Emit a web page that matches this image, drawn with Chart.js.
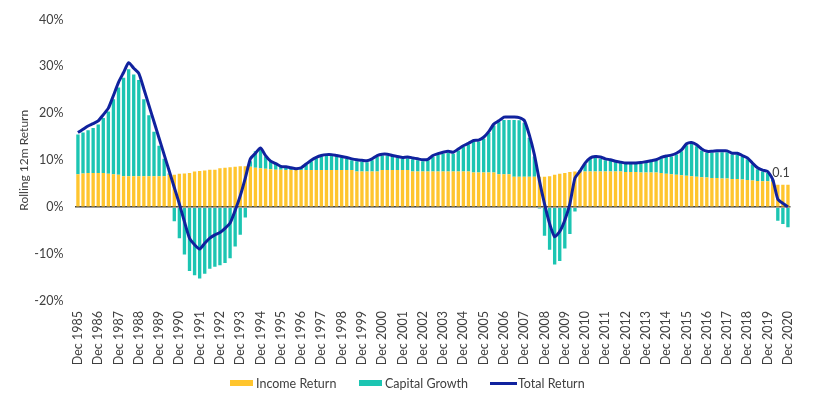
<!DOCTYPE html>
<html><head><meta charset="utf-8">
<script src="https://cdn.jsdelivr.net/npm/chart.js@4.4.0/dist/chart.umd.min.js"></script>
<style>
html,body{margin:0;padding:0;background:#fff;}
#wrap{position:relative;width:813px;height:404px;}
canvas{display:block}
.leg{position:absolute;top:376px;height:14px;display:flex;align-items:center;font-family:Lato,sans-serif;font-size:12.5px;color:#404040;white-space:nowrap}
.sw{display:inline-block;width:23px;height:6px;margin-right:3px}
.ln{display:inline-block;width:27px;height:3px;background:#10229E;margin-right:1px}
</style></head><body>
<div id="wrap"><canvas id="c" width="813" height="404"></canvas>
<div class="leg" style="left:230px"><span class="sw" style="background:#FFC52E"></span>Income Return</div>
<div class="leg" style="left:359px"><span class="sw" style="background:#1CC5B2"></span>Capital Growth</div>
<div class="leg" style="left:490px"><span class="ln"></span>Total Return</div>
</div>
<script>
const decLabels = ['Dec 1985','Dec 1986','Dec 1987','Dec 1988','Dec 1989','Dec 1990','Dec 1991','Dec 1992','Dec 1993','Dec 1994','Dec 1995','Dec 1996','Dec 1997','Dec 1998','Dec 1999','Dec 2000','Dec 2001','Dec 2002','Dec 2003','Dec 2004','Dec 2005','Dec 2006','Dec 2007','Dec 2008','Dec 2009','Dec 2010','Dec 2011','Dec 2012','Dec 2013','Dec 2014','Dec 2015','Dec 2016','Dec 2017','Dec 2018','Dec 2019','Dec 2020'];
const otherQuarters = ['Mar','Jun','Sep'];

const incomeReturn = [
 7.0,7.2,7.3,7.3,7.3,7.3,7.1,7.0,6.9,6.6,
 6.6,6.6,6.6,6.6,6.6,6.6,6.6,6.6,6.9,6.9,
 7.1,7.2,7.3,7.6,7.7,7.8,8.0,8.0,8.3,8.4,
 8.5,8.6,8.7,8.7,8.6,8.4,8.3,8.2,8.1,8.0,
 8.0,7.9,7.9,7.9,7.9,7.9,7.9,7.9,7.9,7.9,
 7.9,7.9,7.9,7.9,7.9,7.6,7.6,7.6,7.6,7.6,
 7.9,7.9,7.9,7.9,7.9,7.9,7.6,7.6,7.6,7.6,
 7.6,7.6,7.6,7.6,7.6,7.6,7.6,7.6,7.4,7.4,
 7.4,7.4,7.4,7.0,7.0,7.0,6.5,6.5,6.5,6.5,
 6.5,6.5,6.5,6.6,6.9,7.1,7.3,7.5,7.6,7.6,
 7.6,7.6,7.6,7.6,7.6,7.6,7.6,7.6,7.5,7.5,
 7.5,7.4,7.4,7.4,7.4,7.3,7.1,7.0,6.9,6.8,
 6.7,6.6,6.5,6.4,6.3,6.2,6.2,6.1,6.1,6.0,
 6.0,5.9,5.8,5.7,5.6,5.5,5.5,5.4,4.8,4.8,4.8];

const capitalGrowth = [
 8.5,8.7,9.1,9.6,10.3,11.7,13.3,16.0,18.6,21.0,
 22.8,21.7,20.5,16.4,13.0,9.5,6.5,3.7,0.3,-3.0,
 -6.6,-10.1,-13.6,-14.5,-15.2,-14.2,-13.1,-12.7,-12.4,-11.9,
 -10.9,-8.4,-5.9,-2.2,1.2,3.5,3.9,2.6,1.7,1.3,
 0.7,0.7,0.4,0.2,0.5,1.2,1.9,2.5,2.9,3.0,
 3.0,2.9,2.7,2.4,2.1,2.2,2.1,2.0,2.4,3.1,
 3.1,3.1,2.8,2.6,2.4,2.5,2.6,2.4,2.2,2.4,
 3.1,3.5,3.8,4.0,3.8,4.5,5.2,5.7,6.5,6.6,
 7.2,8.4,10.0,11.1,11.6,11.6,12.1,12.0,11.5,8.3,
 4.3,-0.3,-6.1,-9.1,-12.2,-11.5,-8.8,-5.7,-0.9,0.3,
 1.6,2.7,2.9,2.7,2.4,2.3,2.0,1.8,1.8,1.8,
 1.8,1.9,2.1,2.3,2.5,3.1,3.6,3.8,4.3,5.1,
 6.5,6.9,6.5,5.7,5.3,5.4,5.5,5.6,5.6,5.2,
 5.2,4.8,4.4,3.4,2.5,2.1,1.8,0.4,-2.9,-3.6,-4.3];

const totalReturn = [
 15.9,16.6,17.3,17.8,18.4,19.7,21.1,23.8,26.6,28.7,
 30.8,29.6,28.5,25.2,21.7,18.2,14.7,11.2,7.7,4.2,
 0.7,-3.1,-6.6,-8.0,-8.9,-7.7,-6.6,-5.9,-5.4,-4.5,
 -3.4,-0.7,2.4,6.2,10.3,11.5,12.6,11.0,9.8,9.3,
 8.7,8.6,8.4,8.2,8.4,9.2,10.0,10.6,11.0,11.2,
 11.2,11.0,10.8,10.6,10.3,10.1,10.0,9.9,10.3,11.0,
 11.3,11.3,11.0,10.8,10.6,10.7,10.5,10.3,10.1,10.2,
 11.0,11.4,11.7,11.9,11.7,12.4,13.1,13.6,14.2,14.3,
 14.9,16.1,17.7,18.4,19.2,19.2,19.2,19.1,18.5,15.4,
 11.2,5.6,0.7,-3.5,-6.3,-5.2,-2.8,0.7,6.2,7.7,
 9.4,10.5,10.8,10.7,10.3,10.1,9.8,9.6,9.4,9.4,
 9.4,9.5,9.7,9.9,10.1,10.6,10.9,11.1,11.5,12.2,
 13.5,13.8,13.3,12.4,11.9,11.9,12.0,12.0,12.0,11.5,
 11.5,11.0,10.5,9.4,8.4,7.9,7.6,5.9,1.7,0.8,0.1];

const categories = [];
decLabels.forEach((d, k) => {
  categories.push(d);
  if (k < decLabels.length - 1) {
    const nextYear = parseInt(d.slice(4), 10) + 1;
    otherQuarters.forEach(q => categories.push(q + ' ' + nextYear));
  }
});

const FONT = 'Lato';
const TXT = '#404040';

const endLabel = {
  id: 'endLabel',
  afterDatasetsDraw(chart) {
    const meta = chart.getDatasetMeta(2);
    const pt = meta.data[meta.data.length - 1];
    const ctx = chart.ctx;
    ctx.save();
    ctx.font = '12.5px ' + FONT;
    ctx.fillStyle = TXT;
    ctx.textAlign = 'center';
    ctx.textBaseline = 'middle';
    ctx.fillText(totalReturn[totalReturn.length - 1].toFixed(1), pt.x - 7, pt.y - 34);
    ctx.restore();
  }
};

new Chart(document.getElementById('c'), {
  data: {
    labels: categories,
    datasets: [
      { type: 'bar', label: 'Income Return', data: incomeReturn, backgroundColor: '#FFC52E', stack: 'a', order: 1, barPercentage: 0.66, categoryPercentage: 1 },
      { type: 'bar', label: 'Capital Growth', data: capitalGrowth, backgroundColor: '#1CC5B2', stack: 'a', order: 1, barPercentage: 0.66, categoryPercentage: 1 },
      { type: 'line', label: 'Total Return', data: totalReturn, borderColor: '#10229E', backgroundColor: '#10229E', borderWidth: 3, pointRadius: 0, tension: 0.2, fill: false, stack: 'line', order: 0 }
    ]
  },
  options: {
    responsive: false,
    animation: false,
    layout: { padding: { left: 0, right: 13, top: 15, bottom: 31 } },
    plugins: { legend: { display: false }, tooltip: { enabled: false } },
    scales: {
      x: {
        stacked: true,
        grid: { display: false, drawTicks: false },
        border: { display: false },
        ticks: {
          autoSkip: false, maxRotation: 90, minRotation: 90, padding: 10,
          color: TXT, font: { family: FONT, size: 12.5 },
          callback: function (v) { const l = this.getLabelForValue(v); return l.startsWith('Dec') ? l : null; }
        },
        afterFit(s) { s.height = 72; }
      },
      y: {
        stacked: true, min: -20, max: 40,
        border: { display: false },
        grid: { drawTicks: false, lineWidth: 1.5, color: ctx => (ctx.tick && ctx.tick.value === 0) ? '#404040' : 'rgba(0,0,0,0)' },
        ticks: { stepSize: 10, padding: 12, color: TXT, font: { family: FONT, size: 12.5 }, callback: v => v + '%' },
        title: { display: true, text: 'Rolling 12m Return', color: TXT, font: { family: FONT, size: 12 }, padding: { top: 17, bottom: 0 } },
        afterFit(s) { s.width = 75.4; }
      }
    }
  },
  plugins: [endLabel]
});
</script>
</body></html>
